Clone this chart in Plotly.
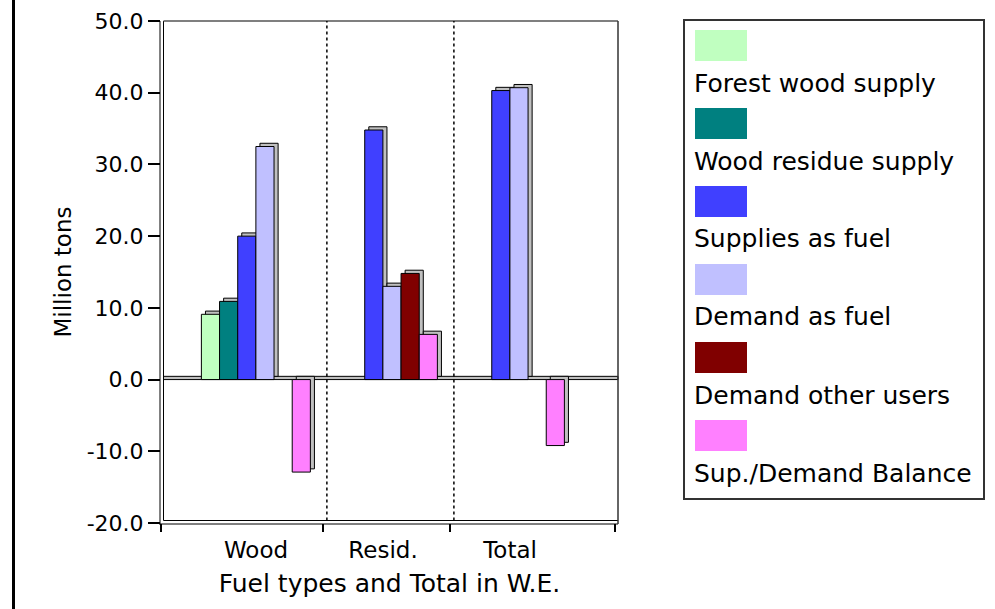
import plotly.graph_objects as go

# ---- data -------------------------------------------------------------
categories = ["Wood", "Resid.", "Total"]
series_names = [
    "Forest wood supply",
    "Wood residue supply",
    "Supplies as fuel",
    "Demand as fuel",
    "Demand other users",
    "Sup./Demand Balance",
]
forest_wood_supply = [9.1, None, None]
wood_residue_supply = [10.9, None, None]
supplies_as_fuel = [20.0, 34.8, 40.3]
demand_as_fuel = [32.5, 13.0, 40.7]
demand_other_users = [None, 14.8, None]
supply_demand_balance = [-12.9, 6.3, -9.2]
y_ticks = [-20, -10, 0, 10, 20, 30, 40, 50]

series_values = [
    forest_wood_supply,
    wood_residue_supply,
    supplies_as_fuel,
    demand_as_fuel,
    demand_other_users,
    supply_demand_balance,
]
series_colors = ["#C0FFC0", "#008080", "#4040FF", "#C0C0FF", "#800000", "#FF80FF"]

# ---- geometry ---------------------------------------------------------
W, H = 995, 609
L, R, T, B = 161, 618, 21, 523          # plot box in pixels
X_RANGE = [0.252, 3.85]
Y_RANGE = [-20, 50]
SLOT = 0.143                            # width of one bar (category units)
FIRST = -0.43                           # offset of the first bar in a group
DEPTH_X = 0.032                         # 3-D side depth (category units)
DEPTH_Y = 0.45                          # 3-D top depth (value units)
FONT = "DejaVu Sans"


def px_x(p):
    return (p - L) / (R - L)


def px_y(p):
    return (B - p) / (B - T)


cat_pos = list(range(1, len(categories) + 1))

fig = go.Figure()

# side/top faces of the 3-D bars, drawn behind the fronts
for i, vals in enumerate(series_values):
    fig.add_trace(go.Bar(
        x=cat_pos, y=vals, base=DEPTH_Y,
        offset=FIRST + i * SLOT + DEPTH_X, width=SLOT,
        marker=dict(color="#C0C0C0", line=dict(color="black", width=1)),
        hoverinfo="skip", showlegend=False,
    ))

# front faces
for i, (name, vals, col) in enumerate(zip(series_names, series_values, series_colors)):
    fig.add_trace(go.Bar(
        x=cat_pos, y=vals, name=name,
        offset=FIRST + i * SLOT, width=SLOT,
        marker=dict(color=col, line=dict(color="black", width=1)),
        showlegend=False,
    ))

shapes = []

def line(x0, y0, x1, y1, color="black", width=1, dash=None, xref="paper", yref="paper", layer="above"):
    d = dict(type="line", x0=x0, y0=y0, x1=x1, y1=y1, xref=xref, yref=yref,
             line=dict(color=color, width=width), layer=layer)
    if dash:
        d["line"]["dash"] = dash
    shapes.append(d)

# zero plane
shapes.append(dict(type="rect", xref="paper", yref="y",
                   x0=px_x(163.5), x1=1, y0=0, y1=DEPTH_Y,
                   fillcolor="#C0C0C0", line=dict(color="black", width=1), layer="below"))

# walls / floor of the chart box
line(px_x(160), px_y(525), px_x(160), px_y(21))
line(px_x(163.5), px_y(520.5), px_x(163.5), px_y(21))
line(px_x(160), px_y(524), 1, px_y(524))
line(px_x(163.5), px_y(520.5), 1, px_y(520.5))
line(px_x(163.5), px_y(21), 1, px_y(21), color="#555555", width=1.5)
line(1, px_y(21), 1, px_y(524), color="#333333", width=1.5)

# dotted separators between categories
for c in cat_pos[:-1]:
    line(c + 0.5 + 0.058, px_y(520.5), c + 0.5 + 0.058, px_y(21),
         dash="dot", width=1.5, xref="x")

# window edge on the left
shapes.append(dict(type="rect", xref="paper", yref="paper",
                   x0=px_x(12), x1=px_x(15), y0=px_y(609), y1=px_y(0),
                   fillcolor="black", line=dict(width=0)))

# legend: swatch above each label
annotations = []
shapes.append(dict(type="rect", xref="paper", yref="paper",
                   x0=px_x(684), x1=px_x(984), y0=px_y(499), y1=px_y(20),
                   fillcolor="white", line=dict(color="#333333", width=2), layer="below"))
for i, (name, col) in enumerate(zip(series_names, series_colors)):
    top = 30 + 78 * i
    shapes.append(dict(type="rect", xref="paper", yref="paper",
                       x0=px_x(695), x1=px_x(747), y0=px_y(top + 31), y1=px_y(top),
                       fillcolor=col, line=dict(width=0)))
    annotations.append(dict(text=name, xref="paper", yref="paper",
                            x=px_x(692), y=px_y(top + 53), xanchor="left", yanchor="middle",
                            showarrow=False, font=dict(family=FONT, size=25, color="black")))

fig.update_layout(
    width=W, height=H,
    margin=dict(l=L, r=W - R, t=T, b=H - B, pad=0),
    paper_bgcolor="white", plot_bgcolor="white",
    barmode="overlay",
    font=dict(family=FONT, color="black"),
    shapes=shapes, annotations=annotations,
    showlegend=False,
    xaxis=dict(
        range=X_RANGE, tickmode="array", tickvals=cat_pos, ticktext=categories,
        ticks="", ticklabelstandoff=11, showgrid=False, zeroline=False, showline=False,
        tickfont=dict(family=FONT, size=23, color="black"),
        minor=dict(tickmode="array", tickvals=[0.252, 1.528, 2.528, 3.827],
                   ticks="outside", ticklen=8, tickcolor="black", tickwidth=1.5),
        title=dict(text="Fuel types and Total in W.E.", standoff=12,
                   font=dict(family=FONT, size=25, color="black")),
        automargin=False, fixedrange=True,
    ),
    yaxis=dict(
        range=Y_RANGE, tickmode="array", tickvals=y_ticks,
        ticktext=[f"{v:.1f}" for v in y_ticks],
        ticks="outside", ticklen=12, tickcolor="black", tickwidth=1.5,
        showgrid=False, zeroline=False, showline=False,
        tickfont=dict(family=FONT, size=22, color="black"),
        title=dict(text="Million tons", standoff=8,
                   font=dict(family=FONT, size=23, color="black")),
        automargin=False, fixedrange=True,
    ),
)

fig.write_html("out.html")
